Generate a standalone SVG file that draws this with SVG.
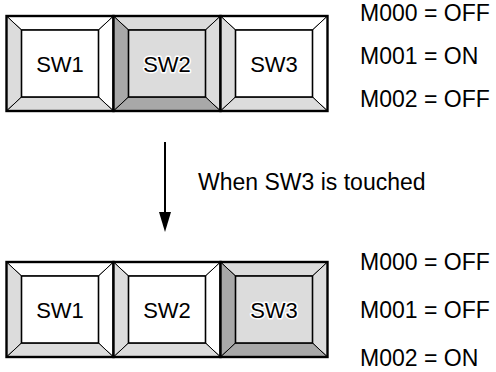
<svg xmlns="http://www.w3.org/2000/svg" width="496" height="372" viewBox="0 0 496 372">
<style>
text{font-family:"Liberation Sans",Arial,sans-serif;font-size:23px;fill:#000}
.lbl{text-anchor:middle;font-size:22px}
.halo{paint-order:stroke;stroke:#fff;stroke-width:3px;stroke-linejoin:round}
.bv{stroke:#000;stroke-width:1;stroke-linejoin:miter}
.w{fill:#fff}.l{fill:#dcdcdc}.d{fill:#a8a8a8}
.outer{fill:none;stroke:#000;stroke-width:2.4}
.inner{stroke:#000;stroke-width:1.6}
.conn{stroke:#000;stroke-width:2;fill:none}
</style>
<defs>
<marker id="ah" markerWidth="20" markerHeight="12" refX="0" refY="6" orient="auto" markerUnits="userSpaceOnUse" viewBox="0 0 20 12">
<polygon points="0,0 20,6 0,12" fill="#000"/>
</marker>
</defs>

<g id="sw1-before" transform="translate(6.5,16)">
<polygon class="bv w" points="0,0 107,0 92,14 15,14"/>
<polygon class="bv l" points="0,0 15,14 15,81 0,95"/>
<polygon class="bv w" points="107,0 107,95 92,81 92,14"/>
<polygon class="bv l" points="0,95 15,81 92,81 107,95"/>
<rect class="inner w" x="15" y="14" width="77" height="67"/>
<rect class="outer" x="0" y="0" width="107" height="95"/>
<text class="lbl" x="53.5" y="56">SW1</text>
</g>
<g id="sw2-before" transform="translate(113.5,16)">
<polygon class="bv l" points="0,0 107,0 92,14 15,14"/>
<polygon class="bv d" points="0,0 15,14 15,81 0,95"/>
<polygon class="bv l" points="107,0 107,95 92,81 92,14"/>
<polygon class="bv d" points="0,95 15,81 92,81 107,95"/>
<rect class="inner l" x="15" y="14" width="77" height="67"/>
<rect class="outer" x="0" y="0" width="107" height="95"/>
<text class="lbl halo" x="53.5" y="56">SW2</text>
</g>
<g id="sw3-before" transform="translate(220.5,16)">
<polygon class="bv w" points="0,0 107,0 92,14 15,14"/>
<polygon class="bv l" points="0,0 15,14 15,81 0,95"/>
<polygon class="bv w" points="107,0 107,95 92,81 92,14"/>
<polygon class="bv l" points="0,95 15,81 92,81 107,95"/>
<rect class="inner w" x="15" y="14" width="77" height="67"/>
<rect class="outer" x="0" y="0" width="107" height="95"/>
<text class="lbl" x="53.5" y="56">SW3</text>
</g>

<g id="state-before">
<text x="360" y="21">M000 = OFF</text>
<text x="360" y="64">M001 = ON</text>
<text x="360" y="107">M002 = OFF</text>
</g>

<g id="connectors">
<line class="conn" x1="165" y1="142" x2="165" y2="212" marker-end="url(#ah)"/>
</g>
<g id="event-label">
<text x="198" y="190">When SW3 is touched</text>
</g>

<g id="sw1-after" transform="translate(6.5,262)">
<polygon class="bv w" points="0,0 107,0 92,14 15,14"/>
<polygon class="bv l" points="0,0 15,14 15,81 0,95"/>
<polygon class="bv w" points="107,0 107,95 92,81 92,14"/>
<polygon class="bv l" points="0,95 15,81 92,81 107,95"/>
<rect class="inner w" x="15" y="14" width="77" height="67"/>
<rect class="outer" x="0" y="0" width="107" height="95"/>
<text class="lbl" x="53.5" y="56">SW1</text>
</g>
<g id="sw2-after" transform="translate(113.5,262)">
<polygon class="bv w" points="0,0 107,0 92,14 15,14"/>
<polygon class="bv l" points="0,0 15,14 15,81 0,95"/>
<polygon class="bv w" points="107,0 107,95 92,81 92,14"/>
<polygon class="bv l" points="0,95 15,81 92,81 107,95"/>
<rect class="inner w" x="15" y="14" width="77" height="67"/>
<rect class="outer" x="0" y="0" width="107" height="95"/>
<text class="lbl" x="53.5" y="56">SW2</text>
</g>
<g id="sw3-after" transform="translate(220.5,262)">
<polygon class="bv l" points="0,0 107,0 92,14 15,14"/>
<polygon class="bv d" points="0,0 15,14 15,81 0,95"/>
<polygon class="bv l" points="107,0 107,95 92,81 92,14"/>
<polygon class="bv d" points="0,95 15,81 92,81 107,95"/>
<rect class="inner l" x="15" y="14" width="77" height="67"/>
<rect class="outer" x="0" y="0" width="107" height="95"/>
<text class="lbl halo" x="53.5" y="56">SW3</text>
</g>

<g id="state-after">
<text x="360" y="270">M000 = OFF</text>
<text x="360" y="318">M001 = OFF</text>
<text x="360" y="366">M002 = ON</text>
</g>
</svg>
